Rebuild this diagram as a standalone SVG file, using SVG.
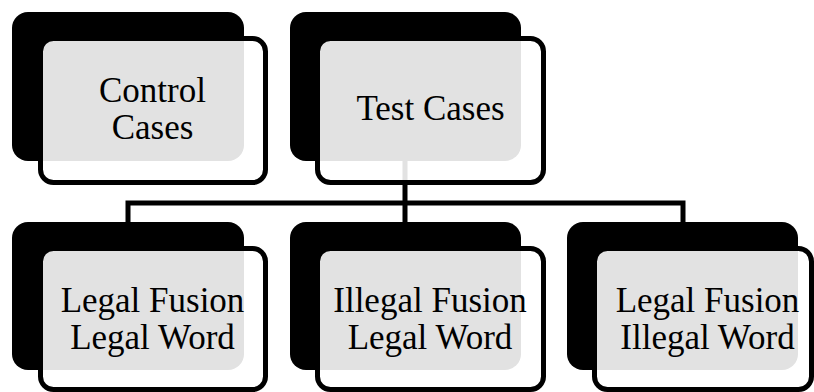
<svg xmlns="http://www.w3.org/2000/svg" width="814" height="392" viewBox="0 0 814 392">
<style>
.back{fill:#000}
.front{fill:#fff;fill-opacity:0.885;stroke:#000;stroke-width:5}
.conn{fill:none;stroke:#000;stroke-width:5}
.lbl{font-family:"Liberation Serif","Times New Roman",serif;font-size:35px;fill:#000;text-anchor:middle}
</style>
<rect width="814" height="392" fill="#fff"/>
<g id="connectors">
<path class="conn" d="M405,160 V222 M128,222 V203 H683 V222"/>
</g>
<g id="control-cases">
<rect class="back" x="12" y="12" width="232" height="149" rx="16"/>
<rect class="front" x="40.5" y="38.5" width="225" height="144" rx="13"/>
<text class="lbl" x="152.5" y="102">Control</text>
<text class="lbl" x="152.5" y="139">Cases</text>
</g>
<g id="test-cases">
<rect class="back" x="290" y="12" width="231" height="149" rx="16"/>
<rect class="front" x="317.5" y="38.5" width="226" height="144" rx="13"/>
<text class="lbl" x="430.5" y="120">Test Cases</text>
</g>
<g id="legal-fusion-legal-word">
<rect class="back" x="12" y="222" width="232" height="148" rx="16"/>
<rect class="front" x="40.5" y="248.5" width="225" height="141" rx="13"/>
<text class="lbl" x="152.5" y="312">Legal Fusion</text>
<text class="lbl" x="152.5" y="349">Legal Word</text>
</g>
<g id="illegal-fusion-legal-word">
<rect class="back" x="290" y="222" width="231" height="148" rx="16"/>
<rect class="front" x="317.5" y="248.5" width="226" height="141" rx="13"/>
<text class="lbl" x="430" y="312">Illegal Fusion</text>
<text class="lbl" x="430" y="349">Legal Word</text>
</g>
<g id="legal-fusion-illegal-word">
<rect class="back" x="567" y="222" width="231" height="148" rx="16"/>
<rect class="front" x="594.5" y="248.5" width="217" height="141" rx="13"/>
<text class="lbl" x="707.5" y="312">Legal Fusion</text>
<text class="lbl" x="707.5" y="349">Illegal Word</text>
</g>
</svg>
